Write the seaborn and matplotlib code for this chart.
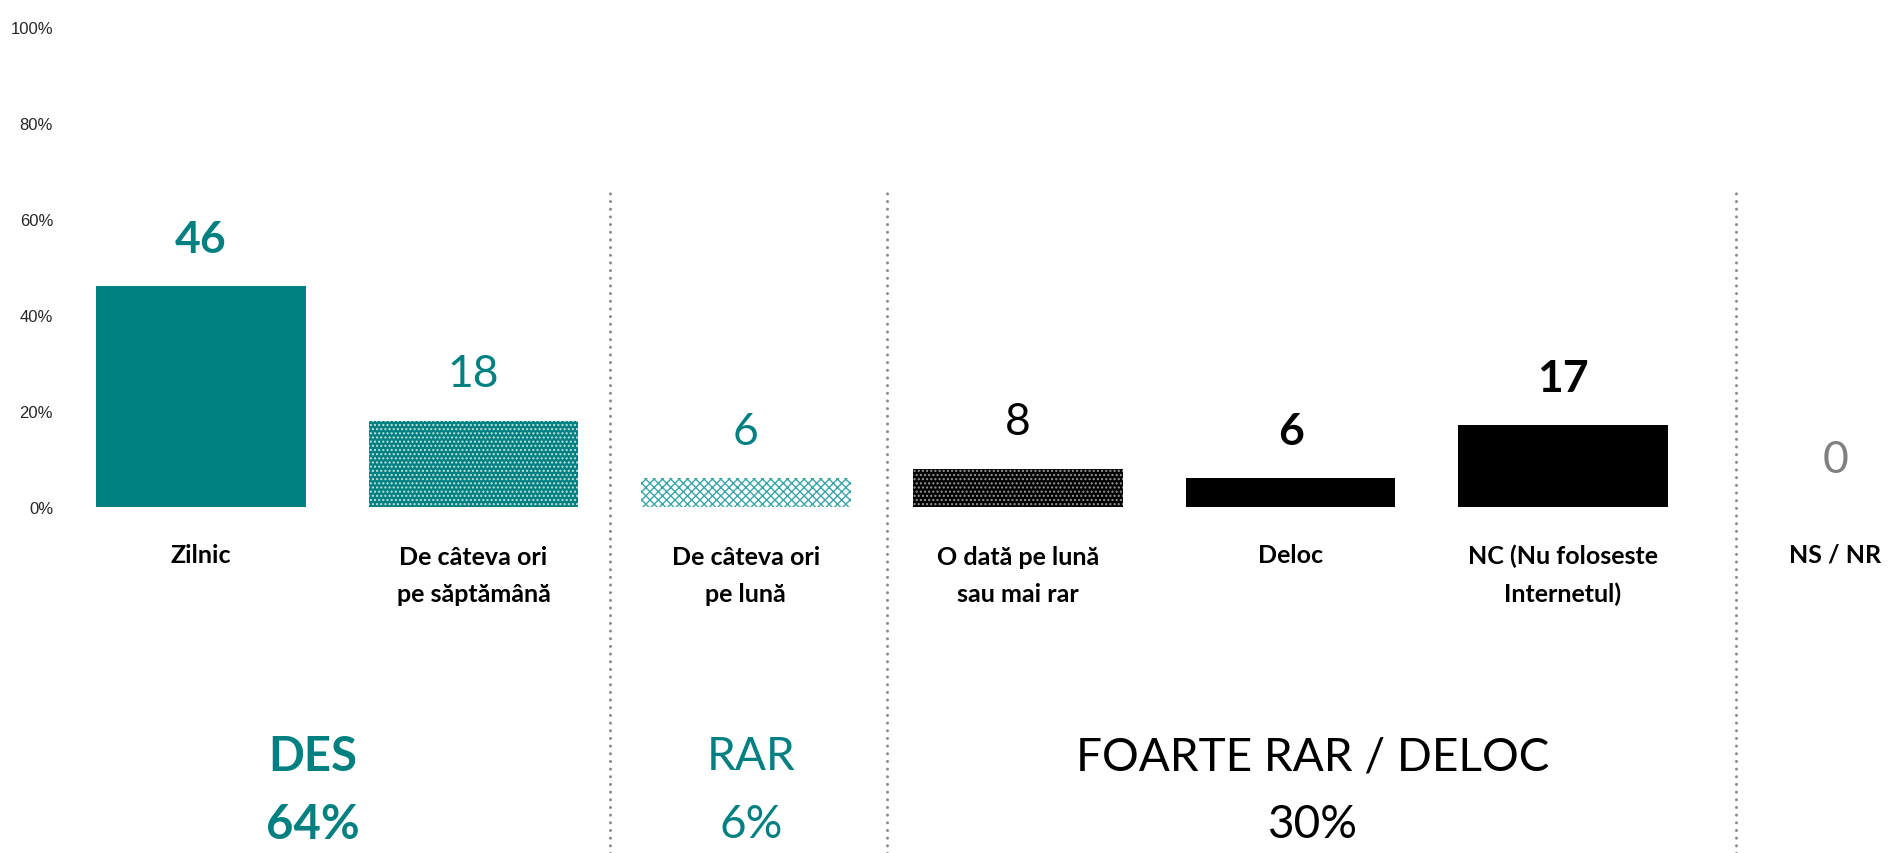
import matplotlib
matplotlib.use("Agg")
import matplotlib.pyplot as plt
import seaborn as sns
import pandas as pd

# data
categories = ["Zilnic", "De câteva ori\npe săptămână", "De câteva ori\npe lună",
              "O dată pe lună\nsau mai rar", "Deloc", "NC (Nu foloseste\nInternetul)", "NS / NR"]
values = [46, 18, 6, 8, 6, 17, 0]
value_colors = ["#008080", "#008080", "#008080", "#000000", "#000000", "#000000", "#808080"]
value_bold = [True, False, False, False, True, True, False]
group_names = ["DES", "RAR", "FOARTE RAR / DELOC"]
group_totals = ["64%", "6%", "30%"]
group_colors = ["#008080", "#008080", "#000000"]
group_bold = [True, False, False]
yticks = [0, 20, 40, 60, 80, 100]

TEAL = "#008080"

sns.set_style("white")
plt.rcParams["font.family"] = ["Lato", "DejaVu Sans"]
plt.rcParams["hatch.linewidth"] = 1.0

df = pd.DataFrame({"cat": categories, "val": values})

fig = plt.figure(figsize=(18.89, 8.54), dpi=100)
ax = fig.add_axes([60 / 1889, 0, 1 - 60 / 1889, 1])

palette = dict(zip(categories, [TEAL, TEAL, "white", "black", "black", "black", "#808080"]))
sns.barplot(data=df, x="cat", y="val", hue="cat", palette=palette, order=categories,
            hue_order=categories, width=0.77, legend=False, saturation=1, ax=ax)

# hatch patterns for the textured bars
bars = ax.patches
bars[1].set_hatch("....")
bars[1].set_edgecolor("#bfe3e3")
bars[2].set_hatch("xxxx")
bars[2].set_edgecolor("#3aa6a6")
bars[3].set_hatch("....")
bars[3].set_edgecolor("#9a9a9a")
for b in bars:
    b.set_linewidth(0)

ax.set_xlim(-0.518, 6.197)
ax.set_ylim(-72.08, 105.83)
ax.set_yticks(yticks)
ax.set_yticklabels([f"{t}%" for t in yticks], family=["Liberation Sans"], fontsize=12)
ax.tick_params(axis="y", length=0, pad=5)
ax.set_xticks([])
ax.set_xlabel("")
ax.set_ylabel("")
for s in ax.spines.values():
    s.set_visible(False)

# value labels
for i, (v, c, b) in enumerate(zip(values, value_colors, value_bold)):
    ax.text(i, v + 7.2, str(v), ha="center", va="baseline", fontsize=32,
            color=c, fontweight="bold" if b else "normal")

# category labels (baseline of the last line is used by matplotlib)
for i, cat in enumerate(categories):
    nlines = cat.count("\n")
    ax.text(i, -11.4 - nlines * 39 / 4.8, cat, ha="center", va="baseline", fontsize=18,
            fontweight="bold", color="black", linespacing=1.72)

# separators
ax.vlines([1.5, 2.52, 5.635], -72.08, 66.9, colors="#8c8c8c", linewidth=2.2,
          linestyles=(0, (0.01, 2.5)), capstyle="round")

# group labels
group_x = [0.41, 2.02, 4.08]
for gx, name, tot, c, b in zip(group_x, group_names, group_totals, group_colors, group_bold):
    w = "bold" if b else "normal"
    fs = 34 if b else 33
    ax.text(gx, -51.9, name, ha="center", va="center", fontsize=fs, color=c, fontweight=w)
    ax.text(gx, -66.0, tot, ha="center", va="center", fontsize=fs, color=c, fontweight=w)

fig.savefig("out.png", dpi=100)
